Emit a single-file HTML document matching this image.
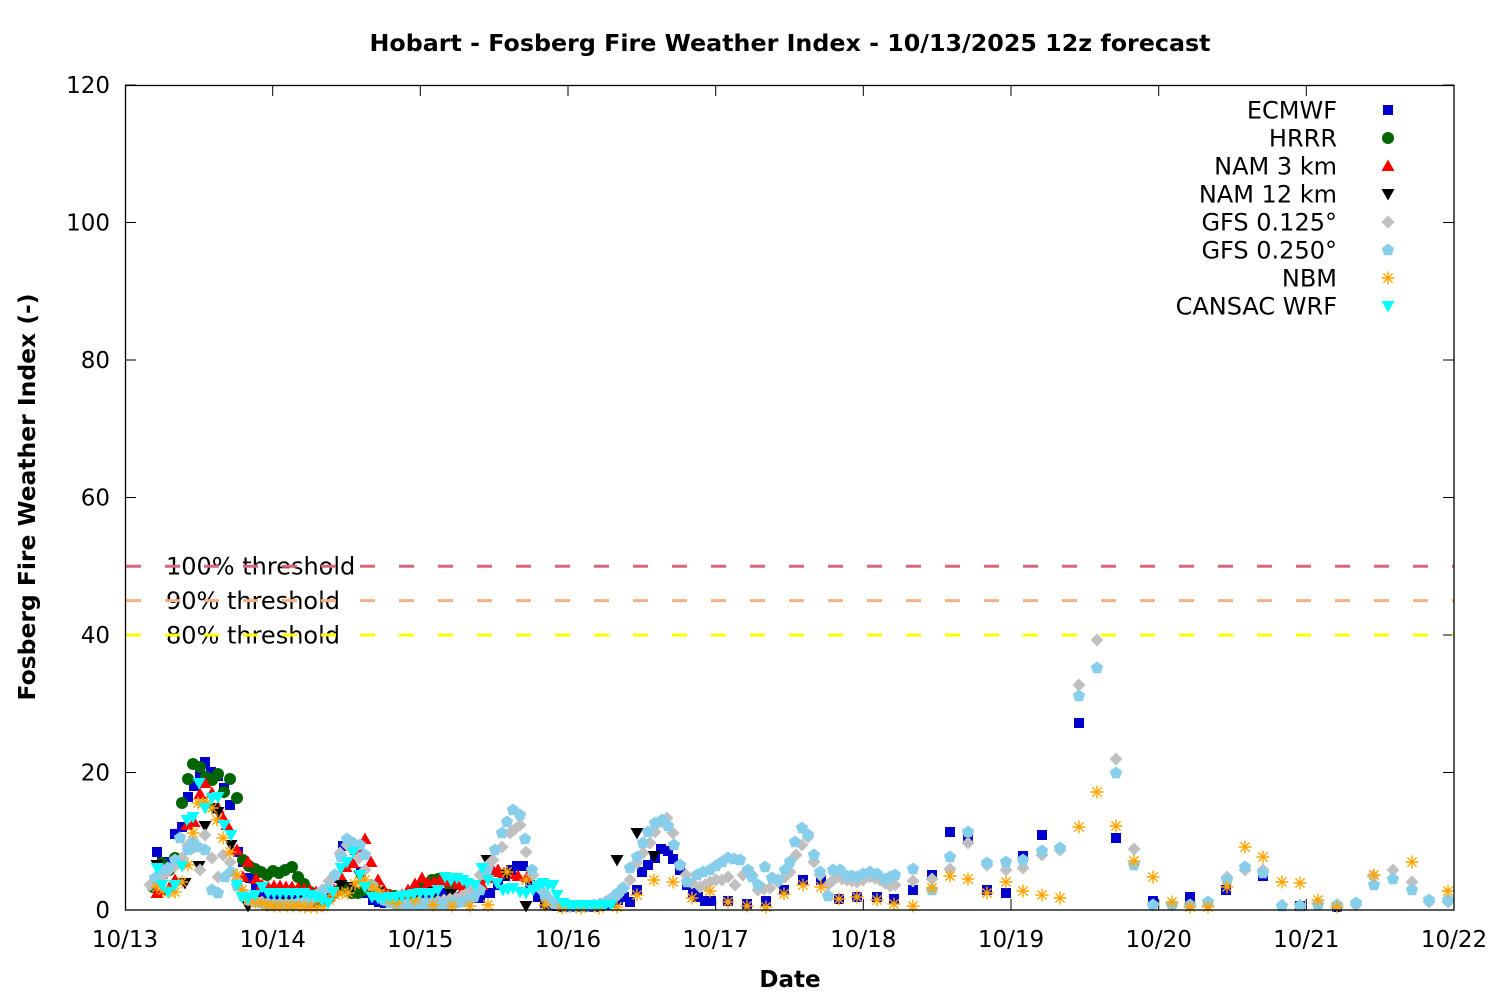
<!DOCTYPE html>
<html><head><meta charset="utf-8"><style>
html,body{margin:0;padding:0;background:#fff;}
svg{display:block;}
text{font-family:"DejaVu Sans","Liberation Sans",sans-serif;font-size:23px;fill:#000;}
.b{font-weight:bold;}
.l{font-size:24px;}
</style></head><body>
<svg width="1500" height="1000" viewBox="0 0 1500 1000" xmlns="http://www.w3.org/2000/svg">
<defs>
<rect id="sq" x="-5" y="-5" width="10" height="10" fill="#0000cd"/>
<circle id="ci" r="6" fill="#006400"/>
<polygon id="tu" points="0,-6.5 6.5,5 -6.5,5" fill="#ff0000"/>
<polygon id="td" points="0,6.5 6.5,-5 -6.5,-5" fill="#000000"/>
<polygon id="di" points="0,-6.5 6.5,0 0,6.5 -6.5,0" fill="#c0c0c0"/>
<polygon id="pe" points="0,-6.5 6.18,-2 3.82,5.26 -3.82,5.26 -6.18,-2" fill="#87ceeb"/>
<path id="as" d="M-6.5,0H6.5M0,-6.5V6.5M-4.6,-4.6L4.6,4.6M-4.6,4.6L4.6,-4.6" stroke="#ffa500" stroke-width="1.4" fill="none"/>
<polygon id="tc" points="0,6.5 6.5,-5 -6.5,-5" fill="#00ffff"/>
</defs>
<rect width="1500" height="1000" fill="#fff"/>

<!-- title -->
<text class="b" x="790" y="51" text-anchor="middle" textLength="841" lengthAdjust="spacingAndGlyphs">Hobart - Fosberg Fire Weather Index - 10/13/2025 12z forecast</text>
<text class="b" x="790" y="987" text-anchor="middle">Date</text>
<text class="b" transform="translate(35,497) rotate(-90)" text-anchor="middle" textLength="407" lengthAdjust="spacingAndGlyphs">Fosberg Fire Weather Index (-)</text>

<!-- y tick labels -->
<g text-anchor="end">
<text x="110" y="918">0</text>
<text x="110" y="780.5">20</text>
<text x="110" y="643">40</text>
<text x="110" y="505.5">60</text>
<text x="110" y="368">80</text>
<text x="110" y="230.5">100</text>
<text x="110" y="93">120</text>
</g>
<!-- x tick labels -->
<g text-anchor="middle">
<text x="125" y="947">10/13</text>
<text x="272.7" y="947">10/14</text>
<text x="420.3" y="947">10/15</text>
<text x="568" y="947">10/16</text>
<text x="715.7" y="947">10/17</text>
<text x="863.3" y="947">10/18</text>
<text x="1011" y="947">10/19</text>
<text x="1158.7" y="947">10/20</text>
<text x="1306.3" y="947">10/21</text>
<text x="1454" y="947">10/22</text>
</g>

<!-- ticks -->
<g stroke="#000" stroke-width="1">
<path d="M125,910h11M125,772.5h11M125,635h11M125,497.5h11M125,360h11M125,222.5h11M125,85h11"/>
<path d="M1454,910h-11M1454,772.5h-11M1454,635h-11M1454,497.5h-11M1454,360h-11M1454,222.5h-11M1454,85h-11"/>
<path d="M272.7,910v-11M420.3,910v-11M568,910v-11M715.7,910v-11M863.3,910v-11M1011,910v-11M1158.7,910v-11M1306.3,910v-11"/>
<path d="M272.7,85v11M420.3,85v11M568,85v11M715.7,85v11M863.3,85v11M1011,85v11M1158.7,85v11M1306.3,85v11"/>
</g>

<!-- threshold labels and lines -->
<text class="l" x="166" y="574.5">100% threshold</text>
<text class="l" x="166" y="609">90% threshold</text>
<text class="l" x="166" y="643.5">80% threshold</text>
<g stroke-width="3" stroke-dasharray="15 24" fill="none">
<path d="M126,566.25H1454" stroke="#da667a"/>
<path d="M126,600.6H1454" stroke="#f4b183"/>
<path d="M126,635H1454" stroke="#ffff00"/>
</g>

<!-- ECMWF -->
<g>
<use href="#sq" x="157" y="852"/><use href="#sq" x="162" y="862"/><use href="#sq" x="168" y="862"/><use href="#sq" x="175" y="834"/><use href="#sq" x="182" y="827"/><use href="#sq" x="188" y="797"/><use href="#sq" x="194" y="786"/><use href="#sq" x="200" y="773"/><use href="#sq" x="205" y="762"/><use href="#sq" x="211" y="772"/><use href="#sq" x="218" y="776"/><use href="#sq" x="224" y="788"/><use href="#sq" x="230" y="805"/><use href="#sq" x="238" y="852"/><use href="#sq" x="243" y="862"/><use href="#sq" x="250" y="878"/><use href="#sq" x="256" y="886"/><use href="#sq" x="262" y="892"/><use href="#sq" x="268" y="896"/><use href="#sq" x="274" y="898"/><use href="#sq" x="280" y="899"/><use href="#sq" x="287" y="900"/><use href="#sq" x="293" y="900"/><use href="#sq" x="299" y="900"/><use href="#sq" x="305" y="902"/><use href="#sq" x="311" y="903"/><use href="#sq" x="317" y="902"/><use href="#sq" x="323" y="901"/><use href="#sq" x="330" y="896"/><use href="#sq" x="336" y="878"/><use href="#sq" x="343" y="846"/><use href="#sq" x="349" y="845"/><use href="#sq" x="355" y="850"/><use href="#sq" x="361" y="872"/><use href="#sq" x="367" y="893"/><use href="#sq" x="373" y="900"/><use href="#sq" x="379" y="902"/><use href="#sq" x="385" y="903"/><use href="#sq" x="391" y="903"/><use href="#sq" x="397" y="902"/><use href="#sq" x="403" y="901"/><use href="#sq" x="410" y="900"/><use href="#sq" x="420" y="898"/><use href="#sq" x="430" y="900"/><use href="#sq" x="440" y="893"/><use href="#sq" x="450" y="895"/><use href="#sq" x="460" y="897"/><use href="#sq" x="470" y="898"/><use href="#sq" x="480" y="898"/><use href="#sq" x="490" y="893"/><use href="#sq" x="498" y="885"/><use href="#sq" x="505" y="876"/><use href="#sq" x="511" y="870"/><use href="#sq" x="517" y="866"/><use href="#sq" x="523" y="866"/><use href="#sq" x="530" y="885"/><use href="#sq" x="538" y="897"/><use href="#sq" x="545" y="903"/><use href="#sq" x="551" y="905"/><use href="#sq" x="557" y="906"/><use href="#sq" x="563" y="907"/><use href="#sq" x="569" y="907"/><use href="#sq" x="576" y="907"/><use href="#sq" x="582" y="907"/><use href="#sq" x="588" y="907"/><use href="#sq" x="594" y="907"/><use href="#sq" x="600" y="906"/><use href="#sq" x="606" y="905"/><use href="#sq" x="612" y="903"/><use href="#sq" x="618" y="900"/><use href="#sq" x="624" y="897"/><use href="#sq" x="630" y="902"/><use href="#sq" x="637" y="890"/><use href="#sq" x="642" y="872"/><use href="#sq" x="648" y="865"/><use href="#sq" x="655" y="858"/><use href="#sq" x="661" y="849"/><use href="#sq" x="668" y="851"/><use href="#sq" x="673" y="859"/><use href="#sq" x="680" y="870"/><use href="#sq" x="687" y="885"/><use href="#sq" x="693" y="893"/><use href="#sq" x="698" y="897"/><use href="#sq" x="705" y="901"/><use href="#sq" x="711" y="901"/><use href="#sq" x="728" y="901"/><use href="#sq" x="747" y="904"/><use href="#sq" x="766" y="901"/><use href="#sq" x="784" y="890"/><use href="#sq" x="803" y="880"/><use href="#sq" x="821" y="880"/><use href="#sq" x="839" y="899"/><use href="#sq" x="857" y="897"/><use href="#sq" x="877" y="897"/><use href="#sq" x="894" y="899"/><use href="#sq" x="913" y="890"/><use href="#sq" x="932" y="875"/><use href="#sq" x="950" y="832"/><use href="#sq" x="968" y="838"/><use href="#sq" x="987" y="890"/><use href="#sq" x="1006" y="893"/><use href="#sq" x="1023" y="856"/><use href="#sq" x="1042" y="835"/><use href="#sq" x="1079" y="723"/><use href="#sq" x="1116" y="838"/><use href="#sq" x="1153" y="901"/><use href="#sq" x="1190" y="897"/><use href="#sq" x="1226" y="890"/><use href="#sq" x="1263" y="876"/><use href="#sq" x="1300" y="906"/><use href="#sq" x="1337" y="907"/>
</g>

<!-- HRRR -->
<g>
<use href="#ci" x="153" y="887"/><use href="#ci" x="162" y="863"/><use href="#ci" x="169" y="870"/><use href="#ci" x="175" y="858"/><use href="#ci" x="182" y="803"/><use href="#ci" x="188" y="779"/><use href="#ci" x="193" y="764"/><use href="#ci" x="200" y="767"/><use href="#ci" x="206" y="777"/><use href="#ci" x="212" y="780"/><use href="#ci" x="218" y="774"/><use href="#ci" x="224" y="792"/><use href="#ci" x="230" y="779"/><use href="#ci" x="237" y="798"/><use href="#ci" x="243" y="860"/><use href="#ci" x="249" y="866"/><use href="#ci" x="255" y="869"/><use href="#ci" x="261" y="872"/><use href="#ci" x="267" y="875"/><use href="#ci" x="273" y="871"/><use href="#ci" x="279" y="873"/><use href="#ci" x="285" y="870"/><use href="#ci" x="292" y="867"/><use href="#ci" x="298" y="877"/><use href="#ci" x="304" y="884"/><use href="#ci" x="310" y="892"/><use href="#ci" x="316" y="898"/><use href="#ci" x="322" y="900"/><use href="#ci" x="328" y="898"/><use href="#ci" x="334" y="893"/><use href="#ci" x="340" y="890"/><use href="#ci" x="346" y="888"/><use href="#ci" x="352" y="893"/><use href="#ci" x="358" y="893"/><use href="#ci" x="364" y="890"/><use href="#ci" x="370" y="888"/><use href="#ci" x="376" y="890"/><use href="#ci" x="383" y="893"/><use href="#ci" x="389" y="895"/><use href="#ci" x="395" y="896"/><use href="#ci" x="401" y="897"/><use href="#ci" x="407" y="896"/><use href="#ci" x="413" y="893"/><use href="#ci" x="420" y="888"/><use href="#ci" x="426" y="884"/><use href="#ci" x="432" y="880"/><use href="#ci" x="438" y="879"/><use href="#ci" x="444" y="880"/><use href="#ci" x="450" y="885"/>
</g>

<!-- NAM 3 km -->
<g>
<use href="#tu" x="157" y="893"/><use href="#tu" x="163" y="890"/><use href="#tu" x="169" y="888"/><use href="#tu" x="175" y="880"/><use href="#tu" x="181" y="862"/><use href="#tu" x="187" y="825"/><use href="#tu" x="194" y="822"/><use href="#tu" x="200" y="794"/><use href="#tu" x="205" y="783"/><use href="#tu" x="212" y="793"/><use href="#tu" x="218" y="808"/><use href="#tu" x="223" y="818"/><use href="#tu" x="227" y="825"/><use href="#tu" x="237" y="850"/><use href="#tu" x="243" y="877"/><use href="#tu" x="248" y="862"/><use href="#tu" x="256" y="879"/><use href="#tu" x="262" y="885"/><use href="#tu" x="268" y="887"/><use href="#tu" x="274" y="886"/><use href="#tu" x="280" y="886"/><use href="#tu" x="286" y="887"/><use href="#tu" x="292" y="887"/><use href="#tu" x="298" y="888"/><use href="#tu" x="304" y="889"/><use href="#tu" x="310" y="890"/><use href="#tu" x="316" y="892"/><use href="#tu" x="322" y="893"/><use href="#tu" x="328" y="897"/><use href="#tu" x="334" y="890"/><use href="#tu" x="340" y="875"/><use href="#tu" x="346" y="867"/><use href="#tu" x="353" y="863"/><use href="#tu" x="359" y="850"/><use href="#tu" x="365" y="839"/><use href="#tu" x="371" y="862"/><use href="#tu" x="378" y="880"/><use href="#tu" x="384" y="890"/><use href="#tu" x="390" y="895"/><use href="#tu" x="396" y="897"/><use href="#tu" x="402" y="895"/><use href="#tu" x="408" y="890"/><use href="#tu" x="415" y="884"/><use href="#tu" x="422" y="878"/><use href="#tu" x="428" y="883"/><use href="#tu" x="434" y="882"/><use href="#tu" x="440" y="880"/><use href="#tu" x="446" y="882"/><use href="#tu" x="452" y="880"/><use href="#tu" x="458" y="885"/><use href="#tu" x="464" y="888"/><use href="#tu" x="470" y="890"/><use href="#tu" x="476" y="890"/><use href="#tu" x="482" y="885"/><use href="#tu" x="488" y="878"/><use href="#tu" x="494" y="872"/><use href="#tu" x="498" y="870"/><use href="#tu" x="504" y="873"/><use href="#tu" x="510" y="874"/><use href="#tu" x="518" y="876"/><use href="#tu" x="527" y="877"/>
</g>

<!-- NAM 12 km -->
<g>
<use href="#td" x="157" y="865"/><use href="#td" x="167" y="873"/><use href="#td" x="185" y="883"/><use href="#td" x="199" y="866"/><use href="#td" x="205" y="826"/><use href="#td" x="213" y="808"/><use href="#td" x="218" y="812"/><use href="#td" x="231" y="845"/><use href="#td" x="248" y="906"/><use href="#td" x="267" y="905"/><use href="#td" x="286" y="903"/><use href="#td" x="305" y="901"/><use href="#td" x="323" y="898"/><use href="#td" x="341" y="885"/><use href="#td" x="352" y="887"/><use href="#td" x="360" y="876"/><use href="#td" x="378" y="892"/><use href="#td" x="397" y="900"/><use href="#td" x="415" y="896"/><use href="#td" x="434" y="892"/><use href="#td" x="451" y="894"/><use href="#td" x="471" y="885"/><use href="#td" x="487" y="860"/><use href="#td" x="507" y="875"/><use href="#td" x="526" y="906"/><use href="#td" x="545" y="905"/><use href="#td" x="563" y="906"/><use href="#td" x="582" y="906"/><use href="#td" x="600" y="905"/><use href="#td" x="617" y="860"/><use href="#td" x="637" y="833"/><use href="#td" x="654" y="856"/>
</g>

<!-- GFS 0.125 -->
<g>
<use href="#di" x="150" y="885"/><use href="#di" x="157" y="880"/><use href="#di" x="163" y="876"/><use href="#di" x="169" y="870"/><use href="#di" x="175" y="866"/><use href="#di" x="182" y="858"/><use href="#di" x="188" y="845"/><use href="#di" x="193" y="848"/><use href="#di" x="200" y="870"/><use href="#di" x="205" y="835"/><use href="#di" x="212" y="858"/><use href="#di" x="218" y="877"/><use href="#di" x="223" y="855"/><use href="#di" x="230" y="862"/><use href="#di" x="237" y="880"/><use href="#di" x="243" y="893"/><use href="#di" x="249" y="898"/><use href="#di" x="255" y="900"/><use href="#di" x="262" y="902"/><use href="#di" x="268" y="903"/><use href="#di" x="274" y="904"/><use href="#di" x="280" y="904"/><use href="#di" x="286" y="904"/><use href="#di" x="292" y="904"/><use href="#di" x="298" y="904"/><use href="#di" x="304" y="903"/><use href="#di" x="310" y="900"/><use href="#di" x="316" y="895"/><use href="#di" x="322" y="890"/><use href="#di" x="329" y="881"/><use href="#di" x="335" y="875"/><use href="#di" x="340" y="853"/><use href="#di" x="347" y="845"/><use href="#di" x="353" y="850"/><use href="#di" x="359" y="858"/><use href="#di" x="365" y="870"/><use href="#di" x="371" y="885"/><use href="#di" x="378" y="895"/><use href="#di" x="384" y="900"/><use href="#di" x="390" y="902"/><use href="#di" x="396" y="903"/><use href="#di" x="402" y="903"/><use href="#di" x="408" y="903"/><use href="#di" x="414" y="902"/><use href="#di" x="420" y="902"/><use href="#di" x="426" y="902"/><use href="#di" x="432" y="902"/><use href="#di" x="438" y="901"/><use href="#di" x="444" y="900"/><use href="#di" x="450" y="899"/><use href="#di" x="456" y="898"/><use href="#di" x="462" y="896"/><use href="#di" x="468" y="892"/><use href="#di" x="474" y="885"/><use href="#di" x="480" y="875"/><use href="#di" x="487" y="866"/><use href="#di" x="493" y="860"/><use href="#di" x="502" y="847"/><use href="#di" x="510" y="833"/><use href="#di" x="515" y="829"/><use href="#di" x="520" y="825"/><use href="#di" x="526" y="852"/><use href="#di" x="533" y="875"/><use href="#di" x="540" y="889"/><use href="#di" x="546" y="898"/><use href="#di" x="552" y="903"/><use href="#di" x="558" y="905"/><use href="#di" x="564" y="906"/><use href="#di" x="570" y="907"/><use href="#di" x="576" y="907"/><use href="#di" x="582" y="907"/><use href="#di" x="588" y="906"/><use href="#di" x="594" y="906"/><use href="#di" x="600" y="905"/><use href="#di" x="606" y="903"/><use href="#di" x="612" y="900"/><use href="#di" x="618" y="895"/><use href="#di" x="624" y="888"/><use href="#di" x="630" y="880"/><use href="#di" x="637" y="863"/><use href="#di" x="643" y="853"/><use href="#di" x="650" y="843"/><use href="#di" x="655" y="832"/><use href="#di" x="661" y="822"/><use href="#di" x="667" y="818"/><use href="#di" x="673" y="833"/><use href="#di" x="680" y="865"/><use href="#di" x="686" y="875"/><use href="#di" x="692" y="883"/><use href="#di" x="700" y="887"/><use href="#di" x="705" y="885"/><use href="#di" x="710" y="882"/><use href="#di" x="716" y="880"/><use href="#di" x="722" y="880"/><use href="#di" x="728" y="877"/><use href="#di" x="735" y="885"/><use href="#di" x="743" y="875"/><use href="#di" x="752" y="875"/><use href="#di" x="758" y="890"/><use href="#di" x="764" y="889"/><use href="#di" x="770" y="888"/><use href="#di" x="778" y="882"/><use href="#di" x="785" y="877"/><use href="#di" x="790" y="872"/><use href="#di" x="796" y="855"/><use href="#di" x="802" y="845"/><use href="#di" x="808" y="837"/><use href="#di" x="814" y="862"/><use href="#di" x="820" y="875"/><use href="#di" x="828" y="885"/><use href="#di" x="833" y="880"/><use href="#di" x="837" y="877"/><use href="#di" x="842" y="879"/><use href="#di" x="847" y="880"/><use href="#di" x="852" y="881"/><use href="#di" x="857" y="882"/><use href="#di" x="863" y="880"/><use href="#di" x="870" y="877"/><use href="#di" x="875" y="878"/><use href="#di" x="880" y="880"/><use href="#di" x="885" y="883"/><use href="#di" x="890" y="886"/><use href="#di" x="895" y="885"/><use href="#di" x="913" y="881"/><use href="#di" x="932" y="879"/><use href="#di" x="950" y="869"/><use href="#di" x="968" y="843"/><use href="#di" x="987" y="865"/><use href="#di" x="1006" y="870"/><use href="#di" x="1023" y="868"/><use href="#di" x="1042" y="855"/><use href="#di" x="1060" y="850"/><use href="#di" x="1079" y="685"/><use href="#di" x="1097" y="640"/><use href="#di" x="1116" y="759"/><use href="#di" x="1134" y="849"/><use href="#di" x="1153" y="905"/><use href="#di" x="1172" y="905"/><use href="#di" x="1190" y="905"/><use href="#di" x="1208" y="905"/><use href="#di" x="1227" y="877"/><use href="#di" x="1245" y="870"/><use href="#di" x="1263" y="870"/><use href="#di" x="1282" y="905"/><use href="#di" x="1300" y="905"/><use href="#di" x="1318" y="903"/><use href="#di" x="1337" y="905"/><use href="#di" x="1356" y="905"/><use href="#di" x="1373" y="876"/><use href="#di" x="1393" y="870"/><use href="#di" x="1412" y="882"/><use href="#di" x="1429" y="902"/><use href="#di" x="1448" y="902"/>
</g>

<!-- GFS 0.250 -->
<g>
<use href="#pe" x="155" y="878"/><use href="#pe" x="162" y="870"/><use href="#pe" x="168" y="868"/><use href="#pe" x="175" y="860"/><use href="#pe" x="180" y="838"/><use href="#pe" x="188" y="850"/><use href="#pe" x="193" y="842"/><use href="#pe" x="198" y="847"/><use href="#pe" x="205" y="850"/><use href="#pe" x="212" y="890"/><use href="#pe" x="218" y="893"/><use href="#pe" x="225" y="877"/><use href="#pe" x="231" y="872"/><use href="#pe" x="237" y="886"/><use href="#pe" x="243" y="896"/><use href="#pe" x="249" y="900"/><use href="#pe" x="255" y="902"/><use href="#pe" x="262" y="903"/><use href="#pe" x="268" y="904"/><use href="#pe" x="274" y="904"/><use href="#pe" x="280" y="904"/><use href="#pe" x="286" y="904"/><use href="#pe" x="292" y="904"/><use href="#pe" x="298" y="903"/><use href="#pe" x="304" y="902"/><use href="#pe" x="310" y="900"/><use href="#pe" x="316" y="897"/><use href="#pe" x="322" y="893"/><use href="#pe" x="328" y="888"/><use href="#pe" x="335" y="875"/><use href="#pe" x="341" y="857"/><use href="#pe" x="347" y="839"/><use href="#pe" x="353" y="843"/><use href="#pe" x="360" y="845"/><use href="#pe" x="365" y="855"/><use href="#pe" x="372" y="885"/><use href="#pe" x="378" y="895"/><use href="#pe" x="384" y="900"/><use href="#pe" x="390" y="903"/><use href="#pe" x="396" y="904"/><use href="#pe" x="402" y="904"/><use href="#pe" x="408" y="904"/><use href="#pe" x="414" y="904"/><use href="#pe" x="420" y="904"/><use href="#pe" x="426" y="904"/><use href="#pe" x="432" y="904"/><use href="#pe" x="438" y="904"/><use href="#pe" x="444" y="904"/><use href="#pe" x="450" y="903"/><use href="#pe" x="456" y="903"/><use href="#pe" x="462" y="902"/><use href="#pe" x="468" y="900"/><use href="#pe" x="474" y="897"/><use href="#pe" x="480" y="890"/><use href="#pe" x="487" y="870"/><use href="#pe" x="495" y="850"/><use href="#pe" x="502" y="833"/><use href="#pe" x="507" y="822"/><use href="#pe" x="513" y="810"/><use href="#pe" x="520" y="815"/><use href="#pe" x="525" y="839"/><use href="#pe" x="532" y="870"/><use href="#pe" x="538" y="885"/><use href="#pe" x="545" y="895"/><use href="#pe" x="551" y="901"/><use href="#pe" x="557" y="904"/><use href="#pe" x="563" y="905"/><use href="#pe" x="569" y="906"/><use href="#pe" x="576" y="906"/><use href="#pe" x="582" y="906"/><use href="#pe" x="588" y="906"/><use href="#pe" x="594" y="905"/><use href="#pe" x="600" y="904"/><use href="#pe" x="606" y="902"/><use href="#pe" x="612" y="898"/><use href="#pe" x="618" y="893"/><use href="#pe" x="623" y="888"/><use href="#pe" x="630" y="868"/><use href="#pe" x="637" y="857"/><use href="#pe" x="643" y="843"/><use href="#pe" x="648" y="832"/><use href="#pe" x="655" y="823"/><use href="#pe" x="662" y="820"/><use href="#pe" x="668" y="826"/><use href="#pe" x="674" y="845"/><use href="#pe" x="680" y="865"/><use href="#pe" x="687" y="882"/><use href="#pe" x="697" y="875"/><use href="#pe" x="703" y="872"/><use href="#pe" x="710" y="870"/><use href="#pe" x="716" y="866"/><use href="#pe" x="722" y="862"/><use href="#pe" x="728" y="858"/><use href="#pe" x="734" y="859"/><use href="#pe" x="740" y="860"/><use href="#pe" x="748" y="870"/><use href="#pe" x="752" y="877"/><use href="#pe" x="758" y="885"/><use href="#pe" x="765" y="867"/><use href="#pe" x="772" y="878"/><use href="#pe" x="778" y="880"/><use href="#pe" x="785" y="870"/><use href="#pe" x="790" y="862"/><use href="#pe" x="795" y="842"/><use href="#pe" x="802" y="828"/><use href="#pe" x="808" y="835"/><use href="#pe" x="814" y="855"/><use href="#pe" x="820" y="872"/><use href="#pe" x="828" y="896"/><use href="#pe" x="833" y="870"/><use href="#pe" x="840" y="870"/><use href="#pe" x="847" y="876"/><use href="#pe" x="852" y="876"/><use href="#pe" x="857" y="877"/><use href="#pe" x="863" y="874"/><use href="#pe" x="870" y="872"/><use href="#pe" x="877" y="874"/><use href="#pe" x="885" y="879"/><use href="#pe" x="890" y="877"/><use href="#pe" x="895" y="875"/><use href="#pe" x="913" y="869"/><use href="#pe" x="932" y="890"/><use href="#pe" x="950" y="857"/><use href="#pe" x="968" y="832"/><use href="#pe" x="987" y="863"/><use href="#pe" x="1006" y="862"/><use href="#pe" x="1023" y="860"/><use href="#pe" x="1042" y="851"/><use href="#pe" x="1060" y="848"/><use href="#pe" x="1079" y="696"/><use href="#pe" x="1097" y="668"/><use href="#pe" x="1116" y="773"/><use href="#pe" x="1134" y="865"/><use href="#pe" x="1153" y="905"/><use href="#pe" x="1172" y="905"/><use href="#pe" x="1190" y="905"/><use href="#pe" x="1208" y="902"/><use href="#pe" x="1227" y="880"/><use href="#pe" x="1245" y="867"/><use href="#pe" x="1263" y="873"/><use href="#pe" x="1282" y="906"/><use href="#pe" x="1300" y="906"/><use href="#pe" x="1318" y="905"/><use href="#pe" x="1337" y="905"/><use href="#pe" x="1356" y="903"/><use href="#pe" x="1374" y="885"/><use href="#pe" x="1393" y="879"/><use href="#pe" x="1412" y="890"/><use href="#pe" x="1429" y="900"/><use href="#pe" x="1448" y="900"/>
</g>

<!-- NBM -->
<g>
<use href="#as" x="157" y="887"/><use href="#as" x="163" y="890"/><use href="#as" x="169" y="892"/><use href="#as" x="175" y="892"/><use href="#as" x="182" y="882"/><use href="#as" x="188" y="865"/><use href="#as" x="193" y="833"/><use href="#as" x="198" y="803"/><use href="#as" x="203" y="803"/><use href="#as" x="207" y="803"/><use href="#as" x="212" y="808"/><use href="#as" x="217" y="820"/><use href="#as" x="223" y="838"/><use href="#as" x="230" y="852"/><use href="#as" x="237" y="875"/><use href="#as" x="242" y="890"/><use href="#as" x="248" y="900"/><use href="#as" x="255" y="902"/><use href="#as" x="262" y="903"/><use href="#as" x="268" y="905"/><use href="#as" x="274" y="906"/><use href="#as" x="280" y="906"/><use href="#as" x="287" y="906"/><use href="#as" x="293" y="906"/><use href="#as" x="299" y="906"/><use href="#as" x="305" y="907"/><use href="#as" x="311" y="907"/><use href="#as" x="317" y="907"/><use href="#as" x="323" y="906"/><use href="#as" x="329" y="900"/><use href="#as" x="335" y="895"/><use href="#as" x="342" y="893"/><use href="#as" x="348" y="893"/><use href="#as" x="355" y="884"/><use href="#as" x="360" y="881"/><use href="#as" x="365" y="880"/><use href="#as" x="372" y="887"/><use href="#as" x="378" y="890"/><use href="#as" x="384" y="895"/><use href="#as" x="390" y="900"/><use href="#as" x="397" y="903"/><use href="#as" x="415" y="900"/><use href="#as" x="433" y="905"/><use href="#as" x="452" y="906"/><use href="#as" x="470" y="906"/><use href="#as" x="488" y="905"/><use href="#as" x="507" y="872"/><use href="#as" x="526" y="880"/><use href="#as" x="545" y="905"/><use href="#as" x="562" y="908"/><use href="#as" x="581" y="908"/><use href="#as" x="599" y="908"/><use href="#as" x="617" y="907"/><use href="#as" x="637" y="895"/><use href="#as" x="654" y="880"/><use href="#as" x="673" y="882"/><use href="#as" x="692" y="898"/><use href="#as" x="710" y="891"/><use href="#as" x="728" y="902"/><use href="#as" x="747" y="906"/><use href="#as" x="766" y="907"/><use href="#as" x="784" y="894"/><use href="#as" x="803" y="885"/><use href="#as" x="821" y="887"/><use href="#as" x="839" y="899"/><use href="#as" x="857" y="897"/><use href="#as" x="877" y="900"/><use href="#as" x="894" y="904"/><use href="#as" x="913" y="906"/><use href="#as" x="932" y="888"/><use href="#as" x="950" y="876"/><use href="#as" x="968" y="879"/><use href="#as" x="987" y="893"/><use href="#as" x="1006" y="882"/><use href="#as" x="1023" y="891"/><use href="#as" x="1042" y="895"/><use href="#as" x="1060" y="898"/><use href="#as" x="1079" y="827"/><use href="#as" x="1097" y="792"/><use href="#as" x="1116" y="826"/><use href="#as" x="1134" y="861"/><use href="#as" x="1153" y="877"/><use href="#as" x="1172" y="902"/><use href="#as" x="1190" y="907"/><use href="#as" x="1208" y="907"/><use href="#as" x="1227" y="887"/><use href="#as" x="1245" y="847"/><use href="#as" x="1263" y="857"/><use href="#as" x="1282" y="882"/><use href="#as" x="1300" y="883"/><use href="#as" x="1318" y="900"/><use href="#as" x="1337" y="907"/><use href="#as" x="1374" y="875"/><use href="#as" x="1412" y="862"/><use href="#as" x="1448" y="891"/>
</g>

<!-- CANSAC WRF -->
<g>
<use href="#tc" x="157" y="868"/><use href="#tc" x="162" y="885"/><use href="#tc" x="168" y="892"/><use href="#tc" x="175" y="885"/><use href="#tc" x="182" y="866"/><use href="#tc" x="187" y="820"/><use href="#tc" x="193" y="817"/><use href="#tc" x="199" y="783"/><use href="#tc" x="205" y="808"/><use href="#tc" x="212" y="798"/><use href="#tc" x="218" y="797"/><use href="#tc" x="224" y="825"/><use href="#tc" x="231" y="835"/><use href="#tc" x="237" y="885"/><use href="#tc" x="242" y="897"/><use href="#tc" x="248" y="898"/><use href="#tc" x="255" y="895"/><use href="#tc" x="262" y="887"/><use href="#tc" x="268" y="893"/><use href="#tc" x="274" y="893"/><use href="#tc" x="280" y="893"/><use href="#tc" x="286" y="893"/><use href="#tc" x="292" y="893"/><use href="#tc" x="298" y="893"/><use href="#tc" x="304" y="893"/><use href="#tc" x="310" y="895"/><use href="#tc" x="316" y="897"/><use href="#tc" x="322" y="900"/><use href="#tc" x="328" y="903"/><use href="#tc" x="333" y="892"/><use href="#tc" x="341" y="868"/><use href="#tc" x="347" y="862"/><use href="#tc" x="353" y="852"/><use href="#tc" x="360" y="875"/><use href="#tc" x="365" y="887"/><use href="#tc" x="372" y="897"/><use href="#tc" x="378" y="898"/><use href="#tc" x="384" y="898"/><use href="#tc" x="390" y="897"/><use href="#tc" x="396" y="897"/><use href="#tc" x="402" y="896"/><use href="#tc" x="408" y="895"/><use href="#tc" x="414" y="894"/><use href="#tc" x="420" y="893"/><use href="#tc" x="426" y="893"/><use href="#tc" x="432" y="893"/><use href="#tc" x="438" y="890"/><use href="#tc" x="445" y="877"/><use href="#tc" x="451" y="880"/><use href="#tc" x="457" y="878"/><use href="#tc" x="463" y="880"/><use href="#tc" x="467" y="883"/><use href="#tc" x="475" y="885"/><use href="#tc" x="482" y="868"/><use href="#tc" x="488" y="880"/><use href="#tc" x="497" y="883"/><use href="#tc" x="503" y="890"/><use href="#tc" x="508" y="889"/><use href="#tc" x="513" y="888"/><use href="#tc" x="520" y="892"/><use href="#tc" x="526" y="893"/><use href="#tc" x="533" y="890"/><use href="#tc" x="538" y="886"/><use href="#tc" x="543" y="883"/><use href="#tc" x="548" y="885"/><use href="#tc" x="553" y="885"/><use href="#tc" x="557" y="895"/><use href="#tc" x="563" y="903"/><use href="#tc" x="569" y="905"/><use href="#tc" x="575" y="905"/><use href="#tc" x="581" y="905"/><use href="#tc" x="587" y="905"/><use href="#tc" x="593" y="905"/><use href="#tc" x="599" y="905"/><use href="#tc" x="605" y="905"/><use href="#tc" x="611" y="905"/>
</g>

<!-- legend -->
<g text-anchor="end" class="l">
<text class="l" x="1337" y="118.5">ECMWF</text>
<text class="l" x="1337" y="146.5">HRRR</text>
<text class="l" x="1337" y="174.5">NAM 3 km</text>
<text class="l" x="1337" y="202.5">NAM 12 km</text>
<text class="l" x="1337" y="230.5">GFS 0.125°</text>
<text class="l" x="1337" y="258.5">GFS 0.250°</text>
<text class="l" x="1337" y="286.5">NBM</text>
<text class="l" x="1337" y="314.5">CANSAC WRF</text>
</g>
<use href="#sq" x="1388" y="110"/>
<use href="#ci" x="1388" y="138"/>
<use href="#tu" x="1388" y="166"/>
<use href="#td" x="1388" y="194"/>
<use href="#di" x="1388" y="222"/>
<use href="#pe" x="1388" y="250"/>
<use href="#as" x="1388" y="278"/>
<use href="#tc" x="1388" y="306"/>

<!-- plot border -->
<rect x="125.5" y="85.5" width="1328.5" height="824.5" fill="none" stroke="#000" stroke-width="1.3"/>
</svg>
</body></html>
